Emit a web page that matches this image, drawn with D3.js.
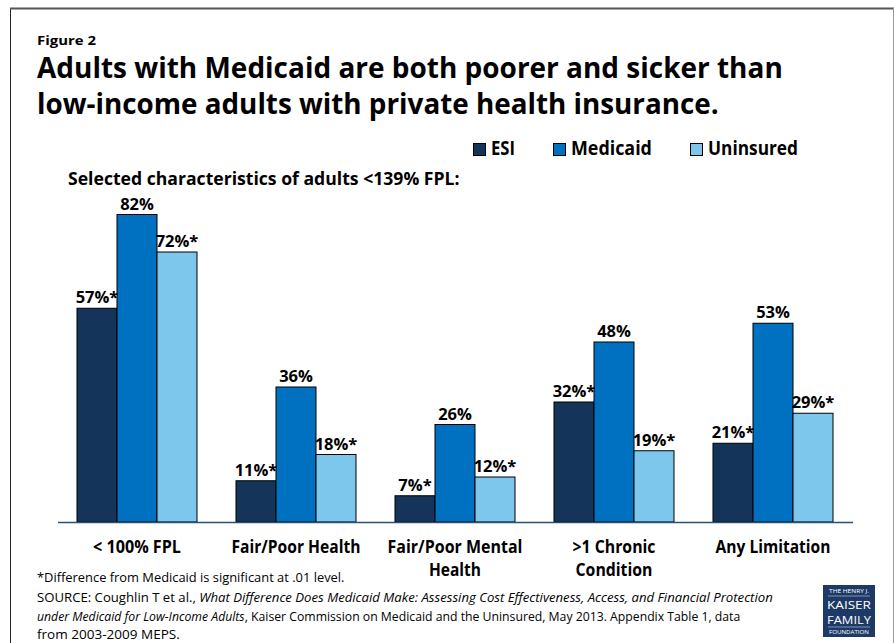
<!DOCTYPE html>
<html>
<head>
<meta charset="utf-8">
<script src="https://cdn.jsdelivr.net/npm/d3@7"></script>
<style>
  html, body { margin: 0; padding: 0; background: #fff; }
  svg { display: block; }
  text { font-family: "Liberation Sans Narrow", "Open Sans", "DejaVu Sans", sans-serif; }
</style>
</head>
<body>
<svg id="chart" width="894" height="643"></svg>
<script>
// ---------------- DATA ----------------
const categories = ["< 100% FPL", "Fair/Poor Health", "Fair/Poor Mental Health", ">1 Chronic Condition", "Any Limitation"];
const categoryLines = [["< 100% FPL"], ["Fair/Poor Health"], ["Fair/Poor Mental", "Health"], [">1 Chronic", "Condition"], ["Any Limitation"]];
const seriesNames = ["ESI", "Medicaid", "Uninsured"];
const esiValues = [57, 11, 7, 32, 21];
const medicaidValues = [82, 36, 26, 48, 53];
const uninsuredValues = [72, 18, 12, 19, 29];
const esiSignificant = [true, true, true, true, true];
const medicaidSignificant = [false, false, false, false, false];
const uninsuredSignificant = [true, true, true, true, true];
const seriesColors = ["#14345a", "#0070c0", "#7dc6ec"];

const titleText = "Figure 2";
const headlineLines = ["Adults with Medicaid are both poorer and sicker than", "low-income adults with private health insurance."];
const subtitleText = "Selected characteristics of adults <139% FPL:";

// ---------------- BUILD ----------------
const svg = d3.select("#chart");
const FONT = '"Liberation Sans Narrow", "Open Sans", "DejaVu Sans", sans-serif';

// helper: place text at (x,y) and squeeze horizontally to target width
function fitText(parent, x, y, content, opts) {
  const g = parent.append("g").attr("transform", `translate(${x},${y})`);
  const t = g.append("text")
    .attr("x", 0).attr("y", 0)
    .attr("text-anchor", opts.anchor || "start")
    .attr("font-size", opts.size)
    .attr("font-weight", opts.weight || "bold")
    .attr("fill", opts.fill || "#000");
  if (opts.family) t.attr("font-family", opts.family);
  if (Array.isArray(content)) {
    content.forEach(p => {
      t.append("tspan").text(p.t).attr("font-style", p.i ? "italic" : "normal");
    });
  } else {
    t.text(content);
  }
  if (opts.width) {
    const w = t.node().getComputedTextLength();
    if (w > 0) t.attr("transform", `scale(${opts.width / w},1)`);
  }
  return t;
}

// frame
svg.append("line").attr("x1", 10.5).attr("x2", 10.5).attr("y1", 8).attr("y2", 643).attr("stroke", "#222").attr("stroke-width", 1);
svg.append("line").attr("x1", 10).attr("x2", 894).attr("y1", 8.5).attr("y2", 8.5).attr("stroke", "#555").attr("stroke-width", 2);
svg.append("line").attr("x1", 893.5).attr("x2", 893.5).attr("y1", 8).attr("y2", 643).attr("stroke", "#999").attr("stroke-width", 1);

// titles
fitText(svg, 37, 45, titleText, { size: 12, width: 59 });
fitText(svg, 37, 78, headlineLines[0], { size: 29, width: 746 });
fitText(svg, 37, 114, headlineLines[1], { size: 29, width: 682 });
fitText(svg, 68, 185, subtitleText, { size: 17, width: 392 });

// legend
const legendItems = [
  { sx: 473, tx: 491, tw: 24 },
  { sx: 553, tx: 571, tw: 81 },
  { sx: 690, tx: 708, tw: 90 }
];
seriesNames.forEach((name, i) => {
  const li = legendItems[i];
  svg.append("rect").attr("x", li.sx + 0.5).attr("y", 143.5).attr("width", 12).attr("height", 12)
    .attr("fill", seriesColors[i]).attr("stroke", "#000").attr("stroke-width", 1);
  fitText(svg, li.tx, 155, name, { size: 19, width: li.tw });
});

// scales
const x0 = d3.scaleBand().domain(categories).range([57.5, 852.5]).padding(0);
const x1 = d3.scaleBand().domain(seriesNames).range([19.5, 139.5]).padding(0);
const y = d3.scaleLinear().domain([0, 100]).range([522, 147]);

const seriesData = [esiValues, medicaidValues, uninsuredValues];
const sigData = [esiSignificant, medicaidSignificant, uninsuredSignificant];

const rows = categories.map((c, ci) => ({
  cat: c,
  vals: seriesNames.map((s, si) => ({ s, si, v: seriesData[si][ci], sig: sigData[si][ci] }))
}));

const groups = svg.append("g").selectAll("g").data(rows).join("g")
  .attr("transform", d => `translate(${x0(d.cat)},0)`);

groups.selectAll("rect").data(d => d.vals).join("rect")
  .attr("x", d => x1(d.s))
  .attr("y", d => y(d.v))
  .attr("width", x1.bandwidth())
  .attr("height", d => y(0) - y(d.v))
  .attr("fill", d => seriesColors[d.si])
  .attr("stroke", "#000")
  .attr("stroke-width", 1);

groups.selectAll("text.val").data(d => d.vals).join("text")
  .attr("class", "val")
  .attr("x", d => x1(d.s) + x1.bandwidth() / 2)
  .attr("y", d => y(d.v) - 5)
  .attr("text-anchor", "middle")
  .attr("font-size", 16.5)
  .attr("font-weight", "bold")
  .attr("font-family", FONT)
  .text(d => d.v + "%" + (d.sig ? "*" : ""));

// axis baseline
const xAxis = d3.axisBottom(x0).tickSize(0).tickFormat("");
const axG = svg.append("g").attr("transform", `translate(0,${y(0)})`).call(xAxis);
axG.select(".domain").attr("stroke", "#2a4f7a").attr("stroke-width", 1.5);

// category labels
const catWidths = [[88], [129], [135, 52], [83, 77], [115]];
rows.forEach((r, ci) => {
  categoryLines[ci].forEach((ln, li) => {
    fitText(svg, x0(r.cat) + x0.bandwidth() / 2, 553 + li * 23, ln, { size: 17, anchor: "middle", width: catWidths[ci][li] });
  });
});

// footnotes
const fnY = [582, 602, 621, 639];
fitText(svg, 37, fnY[0], "*Difference from Medicaid is significant at .01 level.", { size: 12, weight: "normal", width: 308 });
fitText(svg, 37, fnY[1], [{ t: "SOURCE: Coughlin T et al., " }, { t: "What Difference Does Medicaid Make: Assessing Cost Effectiveness, Access, and Financial Protection", i: true }], { size: 12, weight: "normal", width: 737 });
fitText(svg, 37, fnY[2], [{ t: "under Medicaid for Low-Income Adults", i: true }, { t: ", Kaiser Commission on Medicaid and the Uninsured, May 2013. Appendix Table 1, data" }], { size: 12, weight: "normal", width: 704 });
fitText(svg, 37, fnY[3], "from 2003-2009 MEPS.", { size: 12, weight: "normal", width: 143 });

// logo
const logo = svg.append("g");
logo.append("rect").attr("x", 823).attr("y", 585).attr("width", 52).attr("height", 52).attr("fill", "#1d3a66");
const serif = '"Liberation Serif", "DejaVu Serif", serif';
fitText(logo, 849, 593, "THE HENRY J.", { size: 6, weight: "normal", anchor: "middle", width: 40, fill: "#fff", family: serif });
logo.append("line").attr("x1", 828).attr("x2", 870).attr("y1", 596).attr("y2", 596).attr("stroke", "#c8d3e3").attr("stroke-width", 0.6);
fitText(logo, 849, 609, "KAISER", { size: 11, weight: "normal", anchor: "middle", width: 44, fill: "#fff", family: serif });
fitText(logo, 849, 624, "FAMILY", { size: 11, weight: "normal", anchor: "middle", width: 44, fill: "#fff", family: serif });
logo.append("line").attr("x1", 828).attr("x2", 870).attr("y1", 627).attr("y2", 627).attr("stroke", "#c8d3e3").attr("stroke-width", 0.6);
fitText(logo, 849, 634, "FOUNDATION", { size: 5.5, weight: "normal", anchor: "middle", width: 40, fill: "#fff", family: serif });
</script>
</body>
</html>
